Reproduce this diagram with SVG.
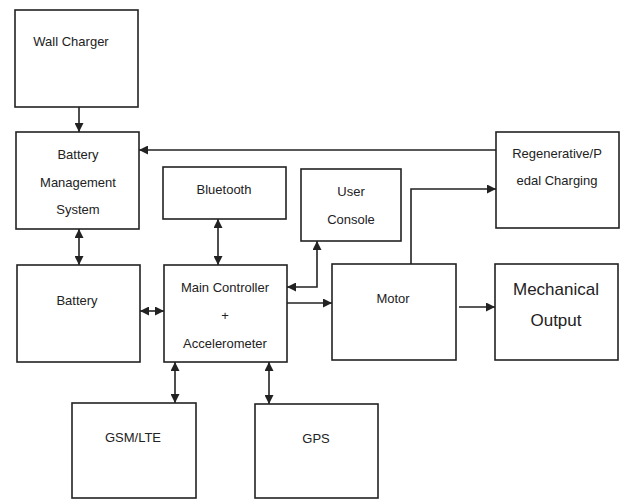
<svg xmlns="http://www.w3.org/2000/svg" width="620" height="500" viewBox="0 0 620 500">
<style>
.box{fill:#fff;stroke:#222;stroke-width:1.6}
.t{font-family:"Liberation Sans",Arial,sans-serif;font-size:13px;fill:#222;text-anchor:middle}
.big{font-size:17px}
.c{fill:none;stroke:#222;stroke-width:1.6}
</style>
<defs>
<marker id="ah" viewBox="0 0 10 10" refX="10" refY="5" markerWidth="9" markerHeight="9" markerUnits="userSpaceOnUse" orient="auto-start-reverse">
<path d="M0,0 L10,5 L0,10 z" fill="#222"/>
</marker>
</defs>
<rect width="620" height="500" fill="#fff"/>
<g id="wall-charger"><rect class="box" x="15" y="10" width="123" height="97"/><text class="t" x="71" y="46">Wall Charger</text></g>
<g id="bms"><rect class="box" x="16" y="132" width="123" height="97"/><text class="t" x="78" y="159">Battery</text><text class="t" x="78" y="187">Management</text><text class="t" x="78" y="214">System</text></g>
<g id="bluetooth"><rect class="box" x="163" y="167" width="123" height="52"/><text class="t" x="224" y="194">Bluetooth</text></g>
<g id="user-console"><rect class="box" x="301" y="169" width="100" height="72"/><text class="t" x="351" y="196">User</text><text class="t" x="351" y="224">Console</text></g>
<g id="regen"><rect class="box" x="496" y="132" width="123" height="96"/><text class="t" x="557" y="158">Regenerative/P</text><text class="t" x="557" y="185">edal Charging</text></g>
<g id="battery"><rect class="box" x="17" y="265" width="123" height="97"/><text class="t" x="77" y="305">Battery</text></g>
<g id="main-controller"><rect class="box" x="164" y="265" width="123" height="97"/><text class="t" x="225" y="292">Main Controller</text><text class="t" x="225" y="320">+</text><text class="t" x="225" y="348">Accelerometer</text></g>
<g id="motor"><rect class="box" x="332" y="264" width="124" height="96"/><text class="t" x="393" y="303">Motor</text></g>
<g id="mechanical-output"><rect class="box" x="495" y="264" width="123" height="96"/><text class="t big" x="556" y="295">Mechanical</text><text class="t big" x="556" y="326">Output</text></g>
<g id="gsm-lte"><rect class="box" x="72" y="403" width="124" height="95"/><text class="t" x="133" y="442">GSM/LTE</text></g>
<g id="gps"><rect class="box" x="255" y="404" width="123" height="94"/><text class="t" x="316" y="443">GPS</text></g>
<g id="connectors">
<path class="c" d="M79,107 V132" marker-end="url(#ah)"/>
<path class="c" d="M496,150 H139" marker-end="url(#ah)"/>
<path class="c" d="M79,229 V265" marker-start="url(#ah)" marker-end="url(#ah)"/>
<path class="c" d="M218,219 V265" marker-start="url(#ah)" marker-end="url(#ah)"/>
<path class="c" d="M140,311 H164" marker-start="url(#ah)" marker-end="url(#ah)"/>
<path class="c" d="M287,287 H317 V241" marker-start="url(#ah)" marker-end="url(#ah)"/>
<path class="c" d="M287,303 H332" marker-end="url(#ah)"/>
<path class="c" d="M411,264 V189 H496" marker-end="url(#ah)"/>
<path class="c" d="M459,307 H495" marker-end="url(#ah)"/>
<path class="c" d="M175,362 V403" marker-start="url(#ah)" marker-end="url(#ah)"/>
<path class="c" d="M269,362 V404" marker-start="url(#ah)" marker-end="url(#ah)"/>
</g>
</svg>
